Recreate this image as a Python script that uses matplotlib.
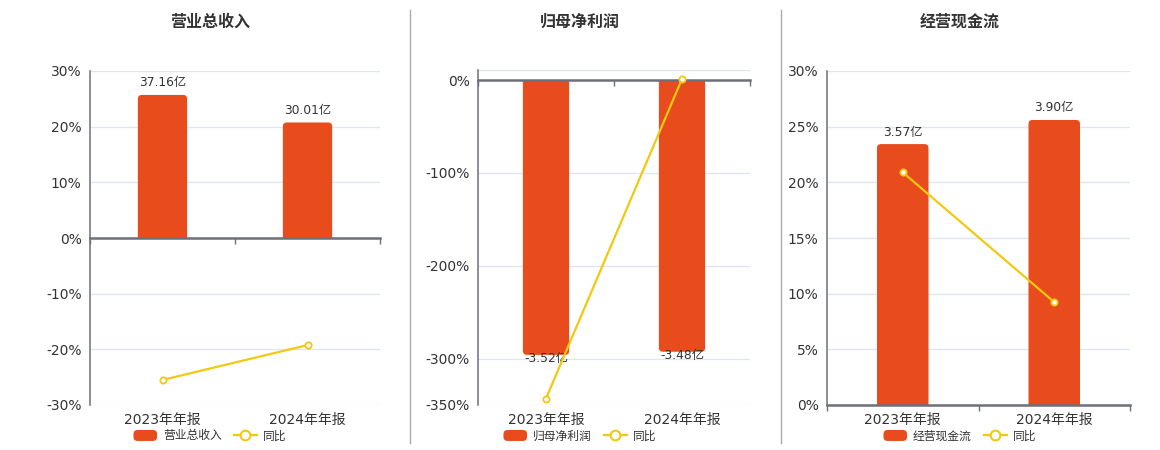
import numpy as np
import matplotlib
matplotlib.use("Agg")
import matplotlib.pyplot as plt
from matplotlib.patches import FancyBboxPatch, Patch, Rectangle
from matplotlib.lines import Line2D
from matplotlib.legend_handler import HandlerPatch

plt.rcParams['font.family'] = ['DejaVu Sans', 'Noto Sans CJK SC']

periods = ['2023年年报', '2024年年报']
titles = ['营业总收入', '归母净利润', '经营现金流']
amounts = [[37.16, 30.01], [-3.52, -3.48], [3.57, 3.90]]   # 亿
amount_labels = [['37.16亿', '30.01亿'], ['-3.52亿', '-3.48亿'], ['3.57亿', '3.90亿']]
yoy = [[-25.5, -19.24], [-343.0, 1.14], [20.9, 9.24]]     # 同比 %
pct_ticks = [[-30, -20, -10, 0, 10, 20, 30],
             [-350, -300, -200, -100, 0],
             [0, 5, 10, 15, 20, 25, 30]]
pct_lims = [(-30, 30), (-350, 10.8), (0, 30)]
amt_lims = [(-43.38, 43.38), (-4.162, 0.1284), (0, 4.57)]

BAR = '#E84C1D'
LINE = '#F2C811'
GRID = '#E0E6F1'
AXIS = '#6E7079'
TXT = '#333333'

W, H = 1160, 450
# axes boxes in pixels: left, right, top, bottom
boxes = [(90, 380, 71, 405), (478, 750, 70, 405), (827, 1130, 71, 405)]
centers = [210, 580, 960]


def round_handle(legend, orig_handle, xdescent, ydescent, width, height, fontsize):
    return FancyBboxPatch((-xdescent, -ydescent), width, height,
                          boxstyle='round,pad=0,rounding_size=3')


fig = plt.figure(figsize=(W / 100, H / 100), dpi=100)

for i in range(3):
    l, r, t, b = boxes[i]
    ax = fig.add_axes([l / W, 1 - b / H, (r - l) / W, (b - t) / H])
    tb = ax.twinx()
    ax.set_zorder(2)
    tb.set_zorder(1)
    ax.patch.set_visible(False)

    x = np.arange(len(periods))
    lo, hi = pct_lims[i]
    alo, ahi = amt_lims[i]
    ax.set_xlim(-0.5, 1.5)
    ax.set_ylim(lo, hi)
    tb.set_ylim(alo, ahi)
    k = (ahi - alo) / (hi - lo)

    # grid on the bar axis so it sits under the bars
    gt = sorted(set(pct_ticks[i] + [hi]))
    tb.set_yticks(np.array(gt) * k)
    tb.yaxis.grid(True, color=GRID, lw=1)
    tb.set_axisbelow(True)
    tb.tick_params(axis='y', length=0, labelright=False)
    for s in tb.spines.values():
        s.set_visible(False)

    # bars with rounded outer corners, square at the zero line
    bars = tb.bar(x, amounts[i], width=0.34, color=BAR)
    xpp = 2.0 / (r - l)
    ypp = (ahi - alo) / (b - t)
    rad = 4
    for bar in bars:
        bx, by = bar.get_x(), bar.get_y()
        bw, bh = bar.get_width(), bar.get_height()
        bar.set_visible(False)
        if bh >= 0:
            y0, y1 = by - rad * ypp, by + bh
            clip = Rectangle((-0.5, 0), 2, ahi, transform=tb.transData)
        else:
            y0, y1 = by + bh, by + rad * ypp
            clip = Rectangle((-0.5, alo), 2, -alo, transform=tb.transData)
        p = FancyBboxPatch((bx, y0), bw, y1 - y0,
                           boxstyle='round,pad=0,rounding_size=%f' % (rad * xpp),
                           mutation_aspect=ypp / xpp, fc=BAR, ec='none')
        tb.add_patch(p)
        p.set_clip_path(clip)
    for xi, v, s in zip(x, amounts[i], amount_labels[i]):
        if v >= 0:
            tb.annotate(s, (xi, v), xytext=(0, 4), textcoords='offset points',
                        ha='center', va='bottom', fontsize=8.8, color=TXT)
        else:
            tb.annotate(s, (xi, v), xytext=(0, -2.5), textcoords='offset points',
                        ha='center', va='center', fontsize=8.8, color=TXT)

    # yoy line
    ax.plot(x, yoy[i], color=LINE, lw=1.6, marker='o', ms=4.5,
            mfc='white', mec=LINE, mew=1.3, clip_on=False)

    ax.set_yticks(pct_ticks[i])
    ax.set_yticklabels(['%d%%' % v for v in pct_ticks[i]])
    ax.tick_params(axis='y', length=0, labelsize=10, labelcolor=TXT, pad=6)
    ax.set_xticks(x)
    ax.set_xticklabels(periods)
    ax.tick_params(axis='x', length=0, labelsize=10, labelcolor=TXT, pad=6)
    for s in ['top', 'right', 'bottom']:
        ax.spines[s].set_visible(False)
    ax.spines['left'].set_color(AXIS)
    ax.spines['left'].set_linewidth(1.1)

    # zero axis line with category boundary ticks
    zax = ax.secondary_xaxis(0, transform=ax.transData)
    zax.set_xticks([-0.5, 0.5, 1.5])
    zax.set_xticklabels([])
    zax.tick_params(axis='x', direction='out', length=4, width=1, color=AXIS)
    zax.spines['bottom'].set_color(AXIS)
    zax.spines['bottom'].set_linewidth(1.8)

    fig.text(centers[i] / W, 1 - 22 / H, titles[i], ha='center', va='center',
             fontsize=11.5, fontweight='bold', color=TXT)

    handles = [Patch(facecolor=BAR, edgecolor='none'),
               Line2D([], [], color=LINE, lw=1.6, marker='o', ms=7,
                      mfc='white', mec=LINE, mew=1.5)]
    fig.legend(handles, [titles[i], '同比'], loc='center',
               bbox_to_anchor=(centers[i] / W, 1 - 436 / H), ncol=2,
               frameon=False, fontsize=8.5, labelcolor=TXT,
               handlelength=2.0, handleheight=1.05, handletextpad=0.5,
               columnspacing=1.0, borderpad=0,
               handler_map={Patch: HandlerPatch(patch_func=round_handle)})

# separators between panels
for sx in [410, 781]:
    fig.add_artist(Line2D([sx / W, sx / W], [1 - 10 / H, 1 - 443 / H],
                          color='#AAAAAA', lw=1, transform=fig.transFigure))

fig.savefig('out.png', dpi=100, facecolor='white')
